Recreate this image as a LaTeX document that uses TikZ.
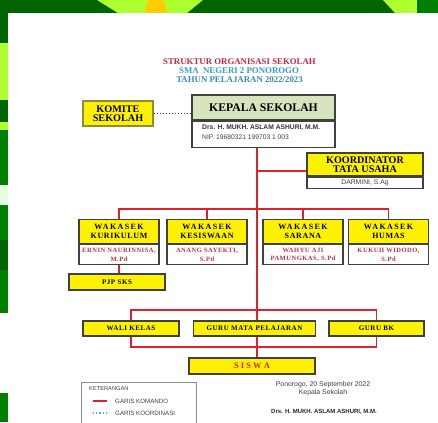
\documentclass[tikz,border=0pt]{standalone}
\usepackage{fontspec}
\setmainfont{Liberation Serif}
\setsansfont{Liberation Sans}
\newfontfamily\hdwide[LetterSpace=17]{Liberation Serif}
\newfontfamily\hdmid[LetterSpace=8]{Liberation Serif}
\newcommand\fsz[1]{\fontsize{#1}{#1}\selectfont}
\definecolor{dgreen}{HTML}{006400}
\definecolor{lgreen}{HTML}{ADFF2F}
\definecolor{mgreen}{HTML}{008000}
\definecolor{flame}{HTML}{FFCC00}
\definecolor{cmdred}{HTML}{E0202A}
\definecolor{edgegray}{HTML}{404040}
\definecolor{kephead}{HTML}{D7E4BD}
\definecolor{titred}{HTML}{C8283C}
\definecolor{titblue}{HTML}{3A9AC8}
\definecolor{titblueb}{HTML}{3F86C0}
\definecolor{namered}{HTML}{C03048}
\definecolor{koordblue}{HTML}{3A3AB0}
\definecolor{legteal}{HTML}{40C0C8}
\definecolor{komedge}{HTML}{8C8C3C}
\pgfdeclarelayer{page}
\pgfdeclarelayer{lines}
\pgfsetlayers{page,lines,main}
\begin{document}
\begin{tikzpicture}[x=1pt,y=-1pt,
  hdr/.style={draw=edgegray, line width=1.2pt, fill=yellow, inner sep=0pt, align=center, text=black},
  bodybox/.style={draw=edgegray, line width=1.2pt, fill=white, inner sep=0pt, align=center},
  txt/.style={inner sep=0pt, align=center},
  cmd/.style={draw=cmdred, line width=1.5pt},
  coord/.style={draw=koordblue, line width=1pt, dotted},
  wakhdr/.style={hdr, minimum width=80pt, minimum height=24pt, font=\bfseries\fontsize{8}{8.3}\selectfont},
  wakbody/.style={bodybox, minimum width=80pt, minimum height=20pt, anchor=north, text=namered, font=\hdmid\bfseries\fontsize{6.5}{8.5}\selectfont},
  flat/.style={hdr, minimum height=15pt, font=\hdmid\bfseries\fsz{7}}
]
\useasboundingbox (0,0) rectangle (438,422);
% ---------- background frame ----------
\begin{pgfonlayer}{page}
\fill[dgreen] (0,0) rectangle (438,422);
\fill[lgreen] (97,0) -- (203,0) -- (187,13) -- (118,13) -- cycle;
\fill[flame] (146,13) .. controls (144,6) and (147,2) .. (150,0) -- (162,0) .. controls (167,4) and (167,9) .. (165,13) -- cycle;
\fill[lgreen] (383,0) -- (417,0) -- (417,13) -- (395,13) -- cycle;
\fill[mgreen] (419,0) rectangle (438,13);
\fill[lgreen] (0,43) rectangle (8,100);
\fill[lgreen] (0,122) rectangle (8,130);
\fill[mgreen] (0,130) rectangle (8,185);
\fill[green!10!white] (0,185) rectangle (8,205);
\fill[mgreen] (0,205) rectangle (8,313);
\fill[dgreen] (0,240) rectangle (8,270);
\fill[white] (0,313) rectangle (8,393);
\fill[mgreen] (0,393) rectangle (8,422);
\fill[white] (8,13) rectangle (438,422);
\end{pgfonlayer}
% ---------- title ----------
\node[txt, font=\bfseries\fsz{8.8}, text=titred] (t1) at (239.5,62) {STRUKTUR ORGANISASI SEKOLAH};
\node[txt, font=\bfseries\fsz{8.8}, text=titblue] (t2) at (239,71) {SMA\ \ NEGERI 2 PONOROGO};
\node[txt, font=\bfseries\fsz{8.8}, text=titblueb] (t3) at (239.5,80) {TAHUN PELAJARAN 2022/2023};
% ---------- top ----------
\node[hdr, draw=komedge, minimum width=70pt, minimum height=25pt, font=\bfseries\fontsize{10.2}{9}\selectfont] (komite) at (118,113.5) {KOMITE\\SEKOLAH};
\node[hdr, fill=kephead, minimum width=143pt, minimum height=25pt, font=\bfseries\fsz{11.7}] (kepala) at (263.5,107.5) {KEPALA SEKOLAH};
\node[bodybox, minimum width=143pt, minimum height=26pt, anchor=north] (kepalab) at (kepala.south) {};
\node[txt, anchor=west, font=\sffamily\bfseries\fsz{6.7}, text=black!80] (kname) at (202,128) {Drs. H. MUKH. ASLAM ASHURI, M.M.};
\node[txt, anchor=west, font=\sffamily\fsz{6.7}, text=black!75] (knip) at (202,137.5) {NIP. 19680321 199703 1 003};
\node[hdr, minimum width=116pt, minimum height=23pt, font=\bfseries\fontsize{10.1}{9.4}\selectfont] (koord) at (365,164.5) {KOORDINATOR\\TATA USAHA};
\node[bodybox, minimum width=116pt, minimum height=11pt, anchor=north, font=\sffamily\fsz{6.8}, text=black!75] (koordb) at (koord.south) {DARMINI, S.Ag};
% ---------- wakasek ----------
\node[wakhdr] (kur) at (119,231.5) {{\hdwide WAKASEK}\\{\hdmid KURIKULUM}};
\node[wakbody] (kurb) at (kur.south) {ERNIN NAURINNISA,\\M.Pd};
\node[wakhdr] (kes) at (207,231.5) {{\hdwide WAKASEK}\\{\hdmid KESISWAAN}};
\node[wakbody] (kesb) at (kes.south) {ANANG SAYEKTI,\\S.Pd};
\node[wakhdr] (sar) at (303,231.5) {{\hdwide WAKASEK}\\{\hdmid SARANA}};
\node[wakbody] (sarb) at (sar.south) {WAHYU AJI\\PAMUNGKAS, S.Pd};
\node[wakhdr] (hum) at (388.5,231.5) {{\hdwide WAKASEK}\\{\hdmid HUMAS}};
\node[wakbody] (humb) at (hum.south) {KUKUH WIDODO,\\S.Pd};
\node[flat, minimum width=96pt, minimum height=16pt] (pjp) at (117,282) {PJP SKS};
% ---------- guru ----------
\node[flat, minimum width=96pt] (wali) at (131,328.5) {WALI KELAS};
\node[flat, minimum width=122pt] (guru) at (254.5,328.5) {GURU MATA PELAJARAN};
\node[flat, minimum width=95pt] (bk) at (376.5,328.5) {GURU BK};
\node[hdr, minimum width=126pt, minimum height=16pt, font=\bfseries\fsz{8.5}, text=cmdred] (siswa) at (252,366) {S I S W A};
% ---------- connectors ----------
\coordinate (mx) at (257,0);
\coordinate (tub) at (257,171);
\coordinate (bus) at (257,209);
\coordinate (ltop) at (257,310);
\coordinate (lbot) at (257,347);
\begin{pgfonlayer}{lines}
\draw[coord] (komite.east) -- (komite.east -| kepala.west);
\draw[cmd] (kepalab.south -| mx) -- (siswa.north -| mx);
\draw[cmd] (tub) -- (tub -| koord.west);
\draw[cmd] (kur.north) -- (kur.north |- bus) -- (hum.north |- bus) -- (hum.north);
\draw[cmd] (kes.north) -- (kes.north |- bus);
\draw[cmd] (sar.north) -- (sar.north |- bus);
\draw[cmd] (kurb.south) -- (kurb.south |- pjp.north);
\draw[cmd] (wali.center |- ltop) -- (bk.center |- ltop) -- (bk.center |- lbot) -- (wali.center |- lbot) -- cycle;
\end{pgfonlayer}
% ---------- legend ----------
\node[draw=black!45, line width=0.6pt, fill=white, anchor=north west, minimum width=115pt, minimum height=50pt, inner sep=0pt] (legend) at (81,382) {};
\node[txt, anchor=west, font=\sffamily\fsz{5.7}, text=black!75] (ket) at (89,389) {KETERANGAN};
\coordinate (ra) at (93,401);
\coordinate (rb) at (107,401);
\coordinate (ca) at (93,413);
\coordinate (cb) at (107,413);
\draw[cmd, line width=1.2pt] (ra) -- (rb);
\draw[draw=legteal, line width=1.2pt, dotted] (ca) -- (cb);
\node[txt, anchor=west, font=\sffamily\fsz{6.2}, text=black!75] (gk) at (115,401) {GARIS KOMANDO};
\node[txt, anchor=west, font=\sffamily\fsz{6.2}, text=black!75] (gko) at (115,413) {GARIS KOORDINASI};
% ---------- signature ----------
\node[txt, font=\sffamily\fsz{6.9}, text=black!75] (place) at (323,385) {Ponorogo, 20 September 2022};
\node[txt, font=\sffamily\fsz{6.9}, text=black!75] (role) at (323,392.5) {Kepala Sekolah};
\node[txt, font=\sffamily\bfseries\fsz{6}, text=black!85] (sig) at (324,412) {Drs. H. MUKH. ASLAM ASHURI, M.M.};
\end{tikzpicture}
\end{document}
